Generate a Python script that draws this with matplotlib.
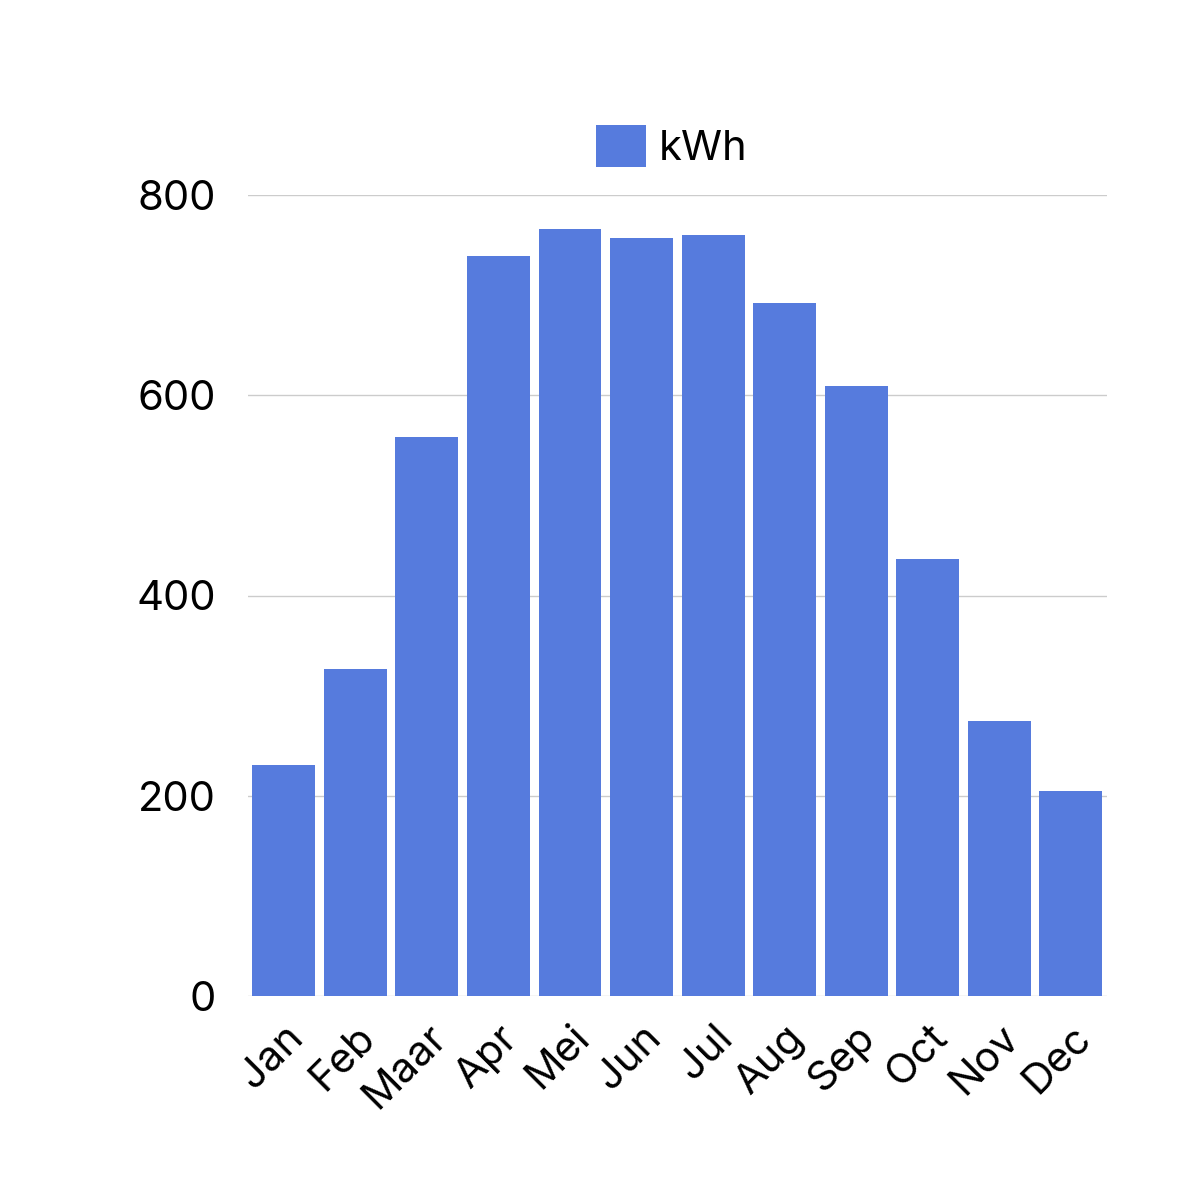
import matplotlib.pyplot as plt
from matplotlib.patches import Patch

months = ['Jan', 'Feb', 'Maar', 'Apr', 'Mei', 'Jun', 'Jul', 'Aug', 'Sep', 'Oct', 'Nov', 'Dec']
kwh = [231, 327, 558, 739, 766, 757, 760, 692, 609, 436, 275, 205]

bar_color = '#567BDD'
plt.rcParams['font.family'] = ['Inter', 'DejaVu Sans']

fig = plt.figure(figsize=(12, 12), dpi=100)
ax = fig.add_axes([0.2067, 0.17, 0.7155, 0.6675])

x = range(len(months))
ax.bar(x, kwh, width=0.88, color=bar_color, zorder=2)

ax.set_xlim(-0.5, len(months) - 0.5)
ax.set_ylim(0, 800)
ax.set_yticks([0, 200, 400, 600, 800])
ax.yaxis.grid(True, color='#cccccc', linewidth=1, zorder=0)
ax.tick_params(axis='y', length=0, labelsize=30, pad=23)
ax.tick_params(axis='x', length=0, labelsize=30, pad=16)
ax.set_xticks(list(x))
ax.set_xticklabels(months, rotation=45, ha='right', rotation_mode='anchor')
for s in ax.spines.values():
    s.set_visible(False)

handles = [Patch(facecolor=bar_color)]
fig.legend(handles, ['kWh'], loc='center', bbox_to_anchor=(0.56, 0.878),
           frameon=False, fontsize=30, handlelength=1.2, handleheight=1.2,
           handletextpad=0.3)

fig.savefig('out.png', dpi=100, facecolor='white')
